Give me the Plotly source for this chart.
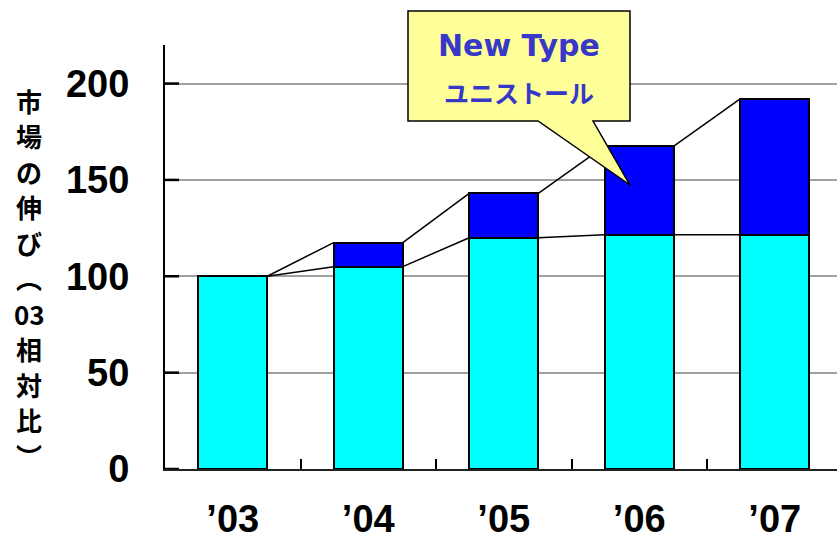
import plotly.graph_objects as go

# ---- data ----
years = ["’03", "’04", "’05", "’06", "’07"]
base_market = [100, 105, 120, 121.5, 121.5]
new_type = [0, 12.5, 23, 46, 70.5]
y_ticks = [0, 50, 100, 150, 200]
axis_title_chars = ["市", "場", "の", "伸", "び", "︵", "03", "相", "対", "比", "︶"]
callout_lines = ["New Type", "ユニストール"]

# ---- geometry ----
W, H = 837, 540
L, T, B, R = 165, 45, 71, 0
PW, PH = W - L - R, H - T - B
BAR_W = 0.51
X_RANGE = [-0.5, -0.5 + PW / 135.5]


def px(xp):
    return (xp - L) / PW


def py(yp):
    return (H - B - yp) / PH


x = list(range(len(years)))
total = [b + n for b, n in zip(base_market, new_type)]

fig = go.Figure()
fig.add_trace(go.Bar(x=x, y=base_market, width=BAR_W,
                     marker=dict(color="#00FFFF", line=dict(color="black", width=2))))
fig.add_trace(go.Bar(x=x, y=new_type, width=BAR_W,
                     marker=dict(color="#0000FF", line=dict(color="black", width=2))))

# connector lines between bar tops
cx, cy = [], []
for level in (base_market, total):
    for i in range(len(x) - 1):
        cx += [x[i] + BAR_W / 2, x[i + 1] - BAR_W / 2, None]
        cy += [level[i], level[i + 1], None]
fig.add_trace(go.Scatter(x=cx, y=cy, mode="lines",
                         line=dict(color="black", width=1.5), hoverinfo="skip"))

fig.update_layout(
    width=W, height=H,
    margin=dict(l=L, r=R, t=T, b=B),
    barmode="stack",
    showlegend=False,
    plot_bgcolor="white", paper_bgcolor="white",
    xaxis=dict(range=X_RANGE, tickmode="array", tickvals=x, ticktext=years,
               ticks="", showgrid=False, zeroline=False, automargin=False,
               showline=True, linecolor="#222222", linewidth=1.5,
               tickfont=dict(family="Liberation Sans", size=38, color="black", weight="bold"),
               ticklabelstandoff=16,
               minor=dict(tickmode="array", tickvals=[0.5, 1.5, 2.5, 3.5],
                          ticks="inside", ticklen=10, tickwidth=1.5, tickcolor="black",
                          showgrid=False)),
    yaxis=dict(range=[0, 220], tickmode="array", tickvals=y_ticks,
               ticks="", showgrid=True, gridcolor="#A0A0A0", gridwidth=2, zeroline=False,
               showline=True, linecolor="black", linewidth=2, automargin=False,
               tickfont=dict(family="Liberation Sans", size=38, color="black", weight="bold"),
               ticklabelstandoff=26),
)

# inside tick marks on the value axis
for v in y_ticks:
    fig.add_shape(type="line", xref="paper", yref="y", x0=0, x1=14 / PW, y0=v, y1=v,
                  line=dict(color="black", width=2.5), layer="above")

# vertical axis title, one character per line
for i, ch in enumerate(axis_title_chars):
    fig.add_annotation(xref="paper", yref="paper", x=px(29), y=py(100 + i * 35.5),
                       text=ch, showarrow=False, xanchor="center", yanchor="middle",
                       font=dict(family="Noto Sans CJK JP", size=26, color="black", weight="bold"))

# callout box
pts = [(408, 11), (630, 11), (630, 121), (593, 121), (630, 185), (538, 121), (408, 121)]
path = "M " + " L ".join(f"{px(a):.5f},{py(b):.5f}" for a, b in pts) + " Z"
fig.add_shape(type="path", xref="paper", yref="paper", path=path,
              fillcolor="#FFFF99", line=dict(color="black", width=1.5), layer="above")
fig.add_annotation(xref="paper", yref="paper", x=px(519), y=py(45), text=callout_lines[0],
                   showarrow=False, xanchor="center", yanchor="middle",
                   font=dict(family="DejaVu Sans", size=30, color="#3838C8", weight="bold"))
fig.add_annotation(xref="paper", yref="paper", x=px(519), y=py(92), text=callout_lines[1],
                   showarrow=False, xanchor="center", yanchor="middle",
                   font=dict(family="Noto Sans CJK JP", size=25, color="#3838C8", weight="bold"))

fig.write_html("out.html")
